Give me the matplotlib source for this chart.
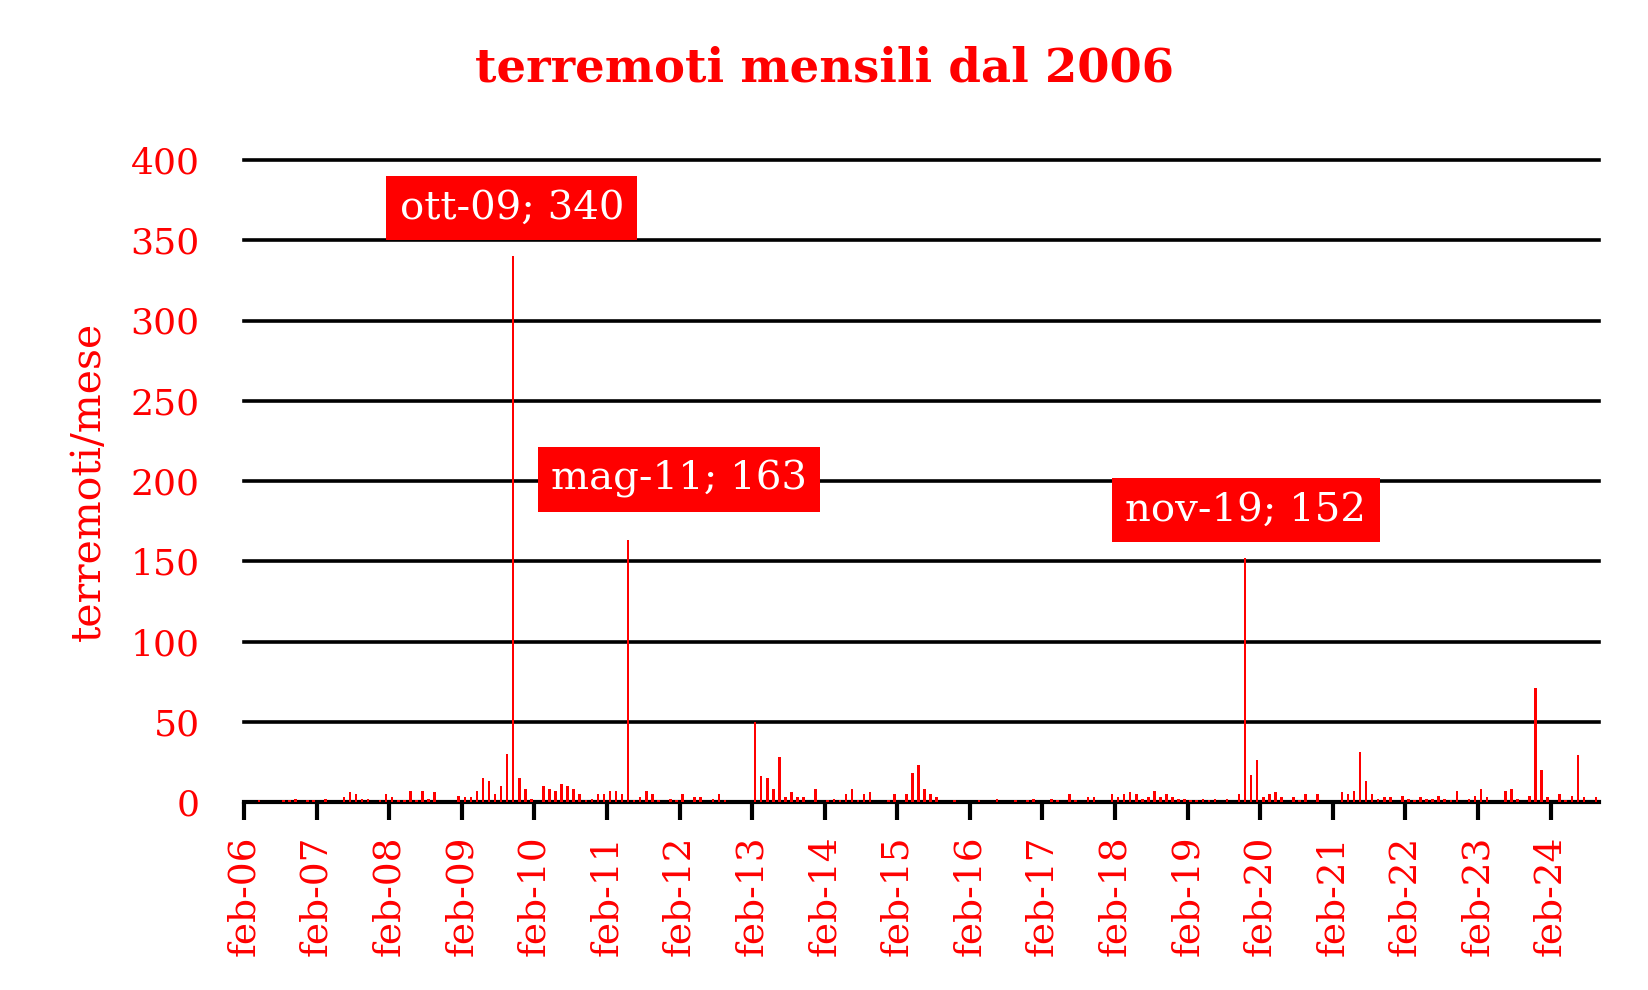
import matplotlib
matplotlib.use("Agg")
import matplotlib.pyplot as plt
import numpy as np

plt.rcParams['font.family'] = ['DejaVu Serif']

# ---- data ----
month_abbr = ["gen", "feb", "mar", "apr", "mag", "giu",
              "lug", "ago", "set", "ott", "nov", "dic"]
start_year, start_month = 2006, 2

counts = [
    0, 0, 1, 0, 0, 0, 1, 1, 2, 0, 1, 1,          # feb-06 .. gen-07
    0, 2, 0, 0, 3, 6, 5, 2, 2, 0, 1, 5,          # feb-07 ..
    3, 1, 1, 7, 1, 7, 2, 6, 0, 0, 0, 4,          # feb-08 ..
    3, 3, 7, 15, 13, 5, 10, 30, 340, 15, 8, 2,   # feb-09 ..
    0, 10, 8, 7, 11, 10, 8, 5, 1, 2, 5, 5,       # feb-10 ..
    7, 7, 5, 163, 1, 3, 7, 5, 1, 0, 2, 1,        # feb-11 ..
    5, 0, 3, 3, 0, 2, 5, 1, 0, 0, 0, 0,          # feb-12 ..
    50, 16, 15, 8, 28, 3, 6, 3, 3, 0, 8, 0,      # feb-13 ..
    1, 2, 1, 5, 8, 1, 5, 6, 0, 0, 1, 5,          # feb-14 ..
    0, 5, 18, 23, 8, 5, 3, 0, 0, 1, 0, 0,        # feb-15 ..
    0, 1, 0, 0, 2, 0, 0, 1, 0, 1, 2, 0,          # feb-16 ..
    0, 2, 1, 0, 5, 1, 0, 3, 3, 0, 0, 5,          # feb-17 ..
    3, 5, 6, 5, 2, 3, 7, 3, 5, 3, 2, 2,          # feb-18 ..
    1, 1, 2, 1, 2, 0, 2, 0, 5, 152, 17, 26,      # feb-19 ..
    3, 5, 6, 3, 0, 3, 1, 5, 0, 5, 0, 0,          # feb-20 ..
    0, 6, 5, 7, 31, 13, 5, 2, 3, 3, 0, 4,        # feb-21 ..
    2, 1, 3, 2, 2, 4, 2, 1, 7, 0, 2, 4,          # feb-22 ..
    8, 3, 0, 0, 7, 8, 2, 0, 4, 71, 20, 3,        # feb-23 ..
    0, 5, 1, 4, 29, 3, 0, 3,                     # feb-24 .. set-24
]

months = []
for k in range(len(counts)):
    m = (start_month - 1 + k) % 12
    y = start_year + (start_month - 1 + k) // 12
    months.append(f"{month_abbr[m]}-{y % 100:02d}")

y_ticks = [0, 50, 100, 150, 200, 250, 300, 350, 400]
annotated = ["ott-09", "mag-11", "nov-19"]
# label box offsets (in months, counts) from bar top
annot_offsets = {"ott-09": (-0.2, 30), "mag-11": (8.4, 38), "nov-19": (0.1, 30)}

title = "terremoti mensili dal 2006"
ylabel = "terremoti/mese"

# ---- figure ----
fig = plt.figure(figsize=(16.49, 9.9), dpi=100)
ax = fig.add_axes([244 / 1649, 1 - 802 / 990, (1599 - 244) / 1649, (802 - 160) / 990])

x = np.arange(len(counts)) + 0.5
ax.bar(x, counts, width=0.42, color='red', zorder=3)

ax.set_xlim(0, len(counts))
ax.set_ylim(0, 400)

ax.set_axisbelow(True)
ax.set_yticks(y_ticks)
ax.set_yticklabels([str(v) for v in y_ticks])
ax.grid(axis='y', color='black', lw=2.6)
ax.grid(axis='x', visible=False)
for gl in ax.get_ygridlines():
    gl.set_clip_on(False)

tick_pos = np.arange(0, len(counts), 12)
ax.set_xticks(tick_pos)
ax.set_xticklabels([months[i] for i in tick_pos], rotation=90)

for s in ['top', 'right', 'left']:
    ax.spines[s].set_visible(False)
ax.spines['bottom'].set_color('black')
ax.spines['bottom'].set_linewidth(3)

ax.tick_params(axis='x', direction='out', length=13, width=3, color='black',
               labelcolor='red', labelsize=27, pad=11)
ax.tick_params(axis='y', length=0, pad=32, labelcolor='red', labelsize=26)

for lab in annotated:
    i = months.index(lab)
    dx, dy = annot_offsets[lab]
    ax.text(x[i] + dx, counts[i] + dy, f"{lab}; {counts[i]}",
            ha='center', va='center', color='white', fontsize=29,
            bbox=dict(boxstyle='square,pad=0.33', fc='red', ec='none'),
            zorder=5)

fig.text(89 / 1649, 1 - 481 / 990, ylabel, rotation=90, ha='center', va='center',
         color='red', fontsize=29.5)
fig.text(0.5, 1 - 69 / 990, title, ha='center', va='center', color='red',
         fontsize=33.5, fontweight='bold')

fig.savefig("out.png", dpi=100)
